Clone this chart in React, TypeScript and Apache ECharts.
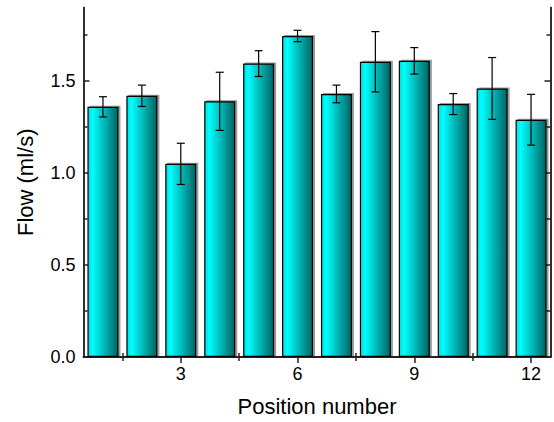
import React, { useEffect, useRef } from "react";
import * as echarts from "echarts";

const positions = [1, 2, 3, 4, 5, 6, 7, 8, 9, 10, 11, 12];
const flow = [1.36, 1.42, 1.05, 1.39, 1.595, 1.745, 1.43, 1.605, 1.61, 1.375, 1.46, 1.29];
const flowErr = [0.055, 0.058, 0.112, 0.158, 0.07, 0.031, 0.048, 0.164, 0.072, 0.057, 0.168, 0.138];
const xMajorTicks = [3, 6, 9, 12];
const xMinorTicks = [1.5, 4.5, 7.5, 10.5];
const yMajorTicks = [0, 0.5, 1.0, 1.5];
const yMinorTicks = [0.25, 0.75, 1.25, 1.75];

const FONT = "'Liberation Sans', Arial, sans-serif";
const AXIS_COLOR = "#222";

export default function App() {
  const ref = useRef<HTMLDivElement>(null);
  useEffect(() => {
    if (!ref.current) return;
    const chart = echarts.init(ref.current, undefined, { renderer: "svg" });

    const axisLine = { show: true, lineStyle: { color: AXIS_COLOR, width: 1.5 } };
    const mkX = (pos: string, ticks: number[], len: number, labels: boolean, extra: any = {}) => ({
      type: "value",
      position: pos,
      min: 0.5,
      max: 12.5,
      axisLine,
      splitLine: { show: false },
      axisTick: { show: true, inside: true, length: len, customValues: ticks, lineStyle: { color: AXIS_COLOR, width: 1.5 } },
      axisLabel: labels
        ? { show: true, customValues: ticks, color: "#000", fontSize: 18, fontFamily: FONT, margin: 8 }
        : { show: false },
      ...extra,
    });
    const mkY = (pos: string, ticks: number[], len: number, labels: boolean, extra: any = {}) => ({
      type: "value",
      position: pos,
      min: 0,
      max: 1.9,
      axisLine,
      splitLine: { show: false },
      axisTick: { show: true, inside: true, length: len, customValues: ticks, lineStyle: { color: AXIS_COLOR, width: 1.5 } },
      axisLabel: labels
        ? {
            show: true,
            customValues: ticks,
            color: "#000",
            fontSize: 18,
            fontFamily: FONT,
            margin: 8,
            formatter: (v: number) => v.toFixed(1),
          }
        : { show: false },
      ...extra,
    });

    const barData = positions.map((p, i) => [p, flow[i]]);
    const errData = positions.map((p, i) => [p, flow[i], flowErr[i]]);

    chart.setOption({
      animation: false,
      grid: { left: 83.5, right: 3.5, top: 7.5, bottom: 65, containLabel: false },
      xAxis: [
        mkX("bottom", xMajorTicks, 6, true, {
          name: "Position number",
          nameLocation: "middle",
          nameGap: 38,
          nameTextStyle: { fontSize: 22, fontFamily: FONT, color: "#000" },
        }),
        mkX("bottom", xMinorTicks, 4, false),
        mkX("top", xMajorTicks, 6, false),
        mkX("top", xMinorTicks, 4, false),
      ],
      yAxis: [
        mkY("left", yMajorTicks, 6, true, {
          name: "Flow (ml/s)",
          nameLocation: "middle",
          nameGap: 47,
          nameTextStyle: { fontSize: 22, fontFamily: FONT, color: "#000" },
        }),
        mkY("left", yMinorTicks, 4, false),
        mkY("right", yMajorTicks, 6, false),
        mkY("right", yMinorTicks, 4, false),
      ],
      series: [
        {
          type: "bar",
          xAxisIndex: 0,
          yAxisIndex: 0,
          data: barData,
          barWidth: 31,
          itemStyle: {
            color: new echarts.graphic.LinearGradient(0, 0, 1, 0, [
              { offset: 0, color: "#00dcdc" },
              { offset: 0.15, color: "#00ffff" },
              { offset: 1, color: "#006464" },
            ]),
            borderColor: "#000",
            borderWidth: 1.2,
            shadowColor: "rgba(0,0,0,0.4)",
            shadowOffsetX: 2,
            shadowOffsetY: -1,
            shadowBlur: 0,
          },
        },
        {
          type: "custom",
          xAxisIndex: 0,
          yAxisIndex: 0,
          data: errData,
          encode: { x: 0, y: 1 },
          z: 5,
          renderItem: (params: any, api: any) => {
            const x = api.value(0);
            const y = api.value(1);
            const e = api.value(2);
            const top = api.coord([x, y + e]);
            const bot = api.coord([x, y - e]);
            const hw = 4;
            const style = { stroke: "#000", lineWidth: 1.2 };
            return {
              type: "group",
              children: [
                { type: "line", shape: { x1: top[0], y1: top[1], x2: bot[0], y2: bot[1] }, style },
                { type: "line", shape: { x1: top[0] - hw, y1: top[1], x2: top[0] + hw, y2: top[1] }, style },
                { type: "line", shape: { x1: bot[0] - hw, y1: bot[1], x2: bot[0] + hw, y2: bot[1] }, style },
              ],
            };
          },
        },
      ],
    });
    return () => chart.dispose();
  }, []);
  return (
    <div
      ref={ref}
      style={{ position: "fixed", left: 0, top: 0, width: 554, height: 422, background: "#fff" }}
    />
  );
}
